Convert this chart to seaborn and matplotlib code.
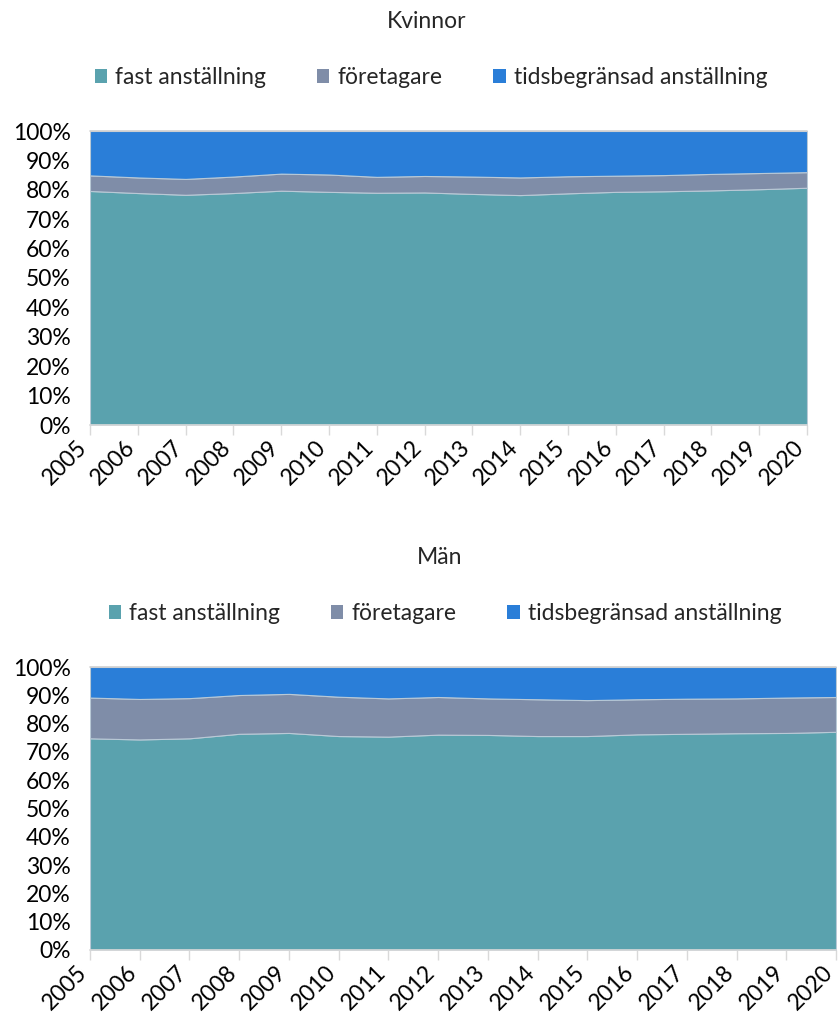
import matplotlib
matplotlib.use("Agg")
import matplotlib.pyplot as plt
from matplotlib.patches import Patch
import matplotlib.transforms as mtransforms
import seaborn as sns
import numpy as np
import pandas as pd

years = list(range(2005, 2021))
series_names = ["fast anställning", "företagare", "tidsbegränsad anställning"]
colors = ["#5AA2AE", "#7F8DA8", "#2A7ED8"]

# Kvinnor (share, %)
kv_fast = [79.6, 78.9, 78.3, 78.9, 79.7, 79.3, 79.0, 79.1, 78.6, 78.2, 78.8, 79.3, 79.5, 79.8, 80.2, 80.7]
kv_foretag = [5.3, 5.3, 5.4, 5.6, 5.8, 5.9, 5.4, 5.6, 5.9, 6.0, 5.8, 5.5, 5.5, 5.6, 5.5, 5.3]
# Män (share, %)
man_fast = [74.8, 74.4, 74.8, 76.4, 76.7, 75.6, 75.4, 76.1, 76.0, 75.6, 75.6, 76.2, 76.4, 76.6, 76.7, 77.1]
man_foretag = [14.4, 14.3, 14.2, 13.7, 13.8, 13.9, 13.5, 13.3, 12.9, 13.0, 12.7, 12.4, 12.4, 12.3, 12.5, 12.3]

def make_df(fast, foretag):
    df = pd.DataFrame({"år": years, series_names[0]: fast, series_names[1]: foretag})
    df[series_names[2]] = 100 - df[series_names[0]] - df[series_names[1]]
    return df

kv = make_df(kv_fast, kv_foretag)
man = make_df(man_fast, man_foretag)

sns.set_theme(style="white")
plt.rcParams["font.family"] = ["Lato", "DejaVu Sans"]

FS = 16.5

fig = plt.figure(figsize=(8.39, 10.24), dpi=100)

def draw(ax, df, title, tx, ty, lx, ly):
    ax.stackplot(df["år"], [df[n] for n in series_names], colors=colors,
                 edgecolor="#b9c9d6", linewidth=0.8, zorder=2)
    ax.set_xlim(2005, 2020)
    ax.set_ylim(0, 100)
    ax.set_yticks(range(0, 101, 10))
    ax.set_yticklabels([f"{v}%" for v in range(0, 101, 10)], fontsize=FS, color="black")
    ax.set_xticks(years)
    ax.set_xticklabels([])
    base = mtransforms.blended_transform_factory(ax.transData, ax.transAxes)
    offset = mtransforms.ScaledTranslation(-6 / 100, -19 / 100, fig.dpi_scale_trans)
    for yr in years:
        ax.text(yr, 0, str(yr), transform=base + offset, rotation=45, ha="right",
                va="center", rotation_mode="anchor", fontsize=FS, color="black",
                clip_on=False)
    ax.tick_params(axis="y", length=0, pad=14)
    ax.tick_params(axis="x", length=7, width=1, color="#d9d9d9", bottom=True)
    for s in ["left", "right", "top"]:
        ax.spines[s].set_visible(False)
    ax.spines["bottom"].set_color("#d9d9d9")
    ax.spines["bottom"].set_linewidth(1.2)
    ax.axhline(100, color="#d0d0d0", lw=1.2, zorder=3, clip_on=False)
    ax.set_xlabel("")
    ax.set_ylabel("")
    fig.text(tx, ty, title, ha="center", va="center", fontsize=FS)
    handles = [Patch(facecolor=c, edgecolor="none") for c in colors]
    fig.legend(handles, series_names, loc="center", bbox_to_anchor=(lx, ly), ncol=3,
               frameon=False, fontsize=FS, handlelength=0.55, handleheight=0.55,
               handletextpad=0.35, columnspacing=2.2)

ax1 = fig.add_axes([90 / 839, 1 - 425 / 1024, 717 / 839, 294 / 1024])
draw(ax1, kv, "Kvinnor", 427 / 839, 1 - 22 / 1024, 431 / 839, 1 - 78 / 1024)

ax2 = fig.add_axes([90 / 839, 1 - 950 / 1024, 746 / 839, 283 / 1024])
draw(ax2, man, "Män", 440 / 839, 1 - 558 / 1024, 445 / 839, 1 - 614 / 1024)

fig.savefig("out.png", dpi=100)
